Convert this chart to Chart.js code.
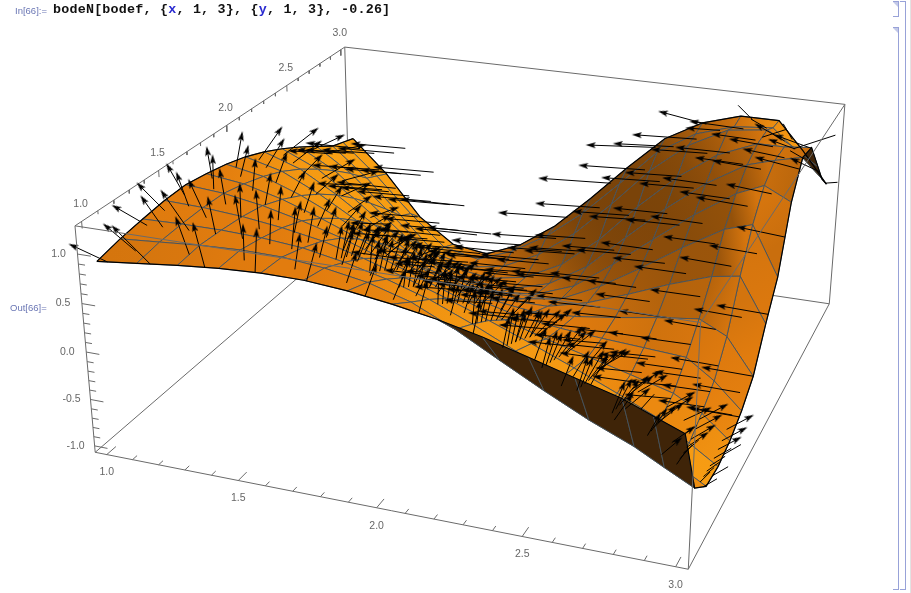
<!DOCTYPE html>
<html>
<head>
<meta charset="utf-8">
<title>bodeN</title>
<script src="https://cdn.jsdelivr.net/npm/chart.js@4/dist/chart.umd.min.js"></script>
<style>
  html, body { margin: 0; padding: 0; background: #fff; overflow: hidden; }
  #chart { position: absolute; left: 0; top: 0; }
  .tag { position: absolute; font: 9.5px "Liberation Sans", sans-serif; color: #6a76b4; white-space: nowrap; }
  #code { position: absolute; left: 53px; top: 2px; font: bold 13.37px "Liberation Mono", monospace; letter-spacing: 0.21px; color: #111; white-space: pre; }
  #code b { color: #2a2ad0; }
  .brk { position: absolute; border: 1px solid #98a2d8; border-left: none; box-sizing: border-box; }
  .tri { position: absolute; width: 0; height: 0; border-top: 5px solid #c3c9e8; border-left: 5px solid transparent; }
  #edge { position: absolute; left: 910px; top: 0; width: 1px; height: 593px; background: #e2e2e2; }
</style>
</head>
<body>
<canvas id="chart" width="911" height="593"></canvas>
<div class="tag" style="left:15px;top:5px">In[66]:=</div>
<div id="code">bodeN[bodef, {<b>x</b>, 1, 3}, {<b>y</b>, 1, 3}, -0.26]</div>
<div class="tag" style="left:10px;top:302px">Out[66]=</div>
<div class="brk" style="left:893px;top:1px;width:6px;height:16px"></div>
<div class="brk" style="left:893px;top:27px;width:6px;height:563px"></div>
<div class="brk" style="left:900px;top:1px;width:6px;height:589px"></div>
<div class="tri" style="left:893px;top:2px"></div>
<div class="tri" style="left:893px;top:28px"></div>
<div id="edge"></div>
<script>
// Plot ranges of the box
const xRange = [0.955, 3.04];
const yRange = [0.96, 3.04];
const zRange = [-1.07, 1.28];

// Tick labels
const xTicks = ['1.0', '1.5', '2.0', '2.5', '3.0'];
const yTicks = ['1.0', '1.5', '2.0', '2.5', '3.0'];
const zTicks = ['-1.0', '-0.5', '0.0', '0.5', '1.0'];

// Surface samples, one row per gridY value
const gridX = [1.0, 1.15, 1.3, 1.45, 1.6, 1.75, 1.9, 2.05, 2.2, 2.35, 2.5, 2.65, 2.8, 2.9, 3.0];
const gridY = [1.0, 1.15, 1.3, 1.45, 1.6, 1.75, 1.9, 2.05, 2.2, 2.35, 2.5, 2.65, 2.8, 2.9, 3.0];
const surfaceZ = [
  [0.90, 0.945, 0.99, 1.026, 1.045, 1.041, 1.005, 0.945, 0.87, 0.77, 0.65, 0.525, 0.406, 0.29, 0.175],
  [0.96, 0.99, 1.02, 1.037, 1.03, 0.985, 0.91, 0.784, 0.585, 0.352, 0.124, -0.09, -0.275, -0.43, -0.58],
  [1.0, 1.009, 1.008, 0.991, 0.952, 0.871, 0.766, 0.629, 0.45, 0.249, 0.038, -0.174, -0.38, -0.62, -0.79],
  [1.034, 1.019, 0.985, 0.93, 0.855, 0.739, 0.606, 0.459, 0.30, 0.132, -0.046, -0.233, -0.428, -0.62, -0.81],
  [1.045, 1.011, 0.94, 0.84, 0.72, 0.57, 0.415, 0.262, 0.12, -0.01, -0.125, -0.24, -0.36, -0.52, -0.76],
  [1.011, 0.958, 0.85, 0.705, 0.54, 0.368, 0.213, 0.078, -0.03, -0.085, -0.121, -0.15, -0.18, -0.38, -0.65],
  [0.965, 0.887, 0.735, 0.543, 0.34, 0.145, -0.003, -0.106, -0.165, -0.143, -0.085, -0.016, 0.04, -0.1, -0.48],
  [0.90, 0.792, 0.595, 0.356, 0.12, -0.086, -0.219, -0.283, -0.283, -0.174, -0.013, 0.163, 0.313, 0.36, -0.105],
  [0.81, 0.668, 0.43, 0.15, -0.12, -0.315, -0.425, -0.448, -0.38, -0.17, 0.1, 0.388, 0.65, 0.74, 0.22],
  [0.70, 0.517, 0.235, -0.083, -0.368, -0.546, -0.616, -0.573, -0.41, -0.095, 0.25, 0.584, 0.875, 1.0, 0.86],
  [0.576, 0.35, 0.022, -0.325, -0.605, -0.744, -0.752, -0.626, -0.36, 0.04, 0.43, 0.772, 1.035, 1.12, 1.19],
  [0.44, 0.166, -0.206, -0.58, -0.81, -0.872, -0.79, -0.569, -0.212, 0.238, 0.633, 0.94, 1.12, 1.12, 1.15],
  [0.298, -0.04, -0.45, -0.86, -0.97, -0.895, -0.685, -0.363, 0.05, 0.5, 0.85, 1.075, 1.13, 0.98, 0.79],
  [0.249, -0.115, -0.53, -0.895, -0.985, -0.82, -0.565, -0.226, 0.19, 0.62, 0.885, 1.02, 1.06, 0.82, 0.55],
  [0.2, -0.19, -0.68, -0.97, -1.03, -0.85, -0.55, -0.15, 0.28, 0.68, 0.92, 1.05, 1.05, 0.74, 0.39],
];

// Vector field: base points, direction on the page (degrees, 90 = up) and length
const arrowX = [1.04, 1.2, 1.4, 1.58, 1.76, 1.96, 2.14, 2.32, 2.52, 2.7, 2.86, 3.0];
const arrowY = [1.0, 1.26, 1.38, 1.52, 1.72, 1.9, 2.08, 2.28, 2.46, 2.64, 2.84, 2.98];
const arrowAngle = [
  [155, 135, 105, 88, 75, 70, 75, 78, 70, 60, 48, 35],
  [150, 125, 100, 85, 72, 68, 75, 78, 68, 55, 40, 30],
  [135, 115, 95, 80, 68, 65, 72, 70, 58, 40, 35, 30],
  [120, 100, 85, 72, 62, 62, 70, 65, 50, 30, 25, 30],
  [100, 85, 72, 60, 50, 52, 60, 40, 175, 174, 172, 170],
  [80, 70, 58, 42, 35, 40, 45, 176, 174, 172, 170, 170],
  [55, 45, 35, 25, 176, 174, 174, 174, 172, 172, 170, 170],
  [38, 30, 20, 176, 175, 175, 174, 174, 172, 172, 170, 168],
  [25, 15, 178, 176, 175, 175, 176, 175, 174, 172, 170, 165],
  [12, 178, 177, 176, 176, 176, 176, 176, 176, 174, 170, 160],
  [176, 176, 176, 176, 176, 176, 176, 176, 176, 172, 150, 155],
  [174, 174, 174, 174, 176, 176, 176, 178, 165, 135, 120, 4],
];
const arrowLength = [
  [38, 50, 42, 40, 35, 30, 30, 30, 30, 30, 20, 14],
  [36, 45, 40, 38, 32, 28, 28, 28, 28, 28, 22, 16],
  [35, 38, 35, 32, 28, 26, 26, 26, 26, 28, 24, 18],
  [32, 32, 30, 28, 25, 25, 25, 25, 28, 30, 26, 20],
  [28, 28, 28, 25, 24, 25, 25, 25, 38, 42, 42, 45],
  [32, 28, 25, 22, 22, 22, 22, 40, 45, 48, 48, 48],
  [36, 30, 25, 22, 28, 38, 40, 42, 45, 48, 48, 48],
  [40, 34, 26, 32, 38, 42, 44, 45, 48, 48, 48, 45],
  [40, 34, 35, 40, 42, 45, 48, 48, 50, 50, 45, 42],
  [38, 40, 42, 45, 48, 50, 50, 52, 52, 50, 40, 35],
  [45, 50, 52, 55, 58, 60, 60, 62, 60, 50, 30, 28],
  [50, 55, 58, 60, 65, 65, 68, 65, 45, 20, 18, 12],
];

// Crowded arrows in the low middle of the surface
const denseX = [1.72, 1.84, 1.96, 2.08, 2.2, 2.32, 2.44, 2.56, 2.68, 2.8, 2.9, 2.98];
const denseY = [1.3, 1.34, 1.38, 1.42, 1.47, 1.52, 1.57, 1.63, 1.7, 1.8];
const denseAngle = [
  [80, 85, 82, 88, 85, 80, 75, 72, 68, 60, 55, 45],
  [78, 82, 80, 85, 82, 78, 72, 68, 62, 55, 48, 40],
  [75, 78, 78, 82, 80, 75, 68, 60, 52, 45, 40, 35],
  [72, 75, 75, 80, 76, 70, 60, 52, 45, 38, 35, 32],
  [68, 72, 70, 75, 70, 62, 52, 45, 38, 32, 30, 30],
  [62, 68, 66, 70, 62, 55, 45, 38, 32, 28, 28, 28],
  [55, 60, 60, 62, 55, 45, 38, 30, 172, 175, 28, 28],
  [48, 52, 52, 55, 45, 38, 174, 172, 174, 174, 172, 28],
  [40, 45, 45, 45, 174, 175, 174, 174, 174, 172, 172, 170],
  [172, 174, 176, 176, 175, 175, 174, 174, 172, 172, 170, 170],
];
const denseLength = [
  [30, 34, 28, 36, 30, 34, 28, 32, 30, 22, 16, 14],
  [34, 28, 32, 30, 36, 28, 32, 28, 30, 24, 18, 14],
  [28, 32, 36, 28, 32, 30, 28, 34, 28, 26, 20, 16],
  [32, 28, 30, 34, 28, 32, 30, 28, 32, 28, 22, 18],
  [30, 34, 28, 32, 30, 28, 34, 30, 28, 32, 24, 20],
  [28, 30, 34, 28, 32, 30, 28, 32, 30, 28, 26, 22],
  [32, 28, 30, 32, 28, 32, 30, 28, 40, 42, 28, 24],
  [28, 32, 28, 30, 32, 28, 42, 44, 42, 44, 42, 26],
  [30, 28, 32, 28, 42, 44, 42, 44, 44, 42, 44, 42],
  [42, 40, 42, 44, 42, 44, 44, 42, 44, 46, 44, 44],
];

// Second layer of arrows over the broad left hump
const humpX = [1.1, 1.3, 1.5, 1.68, 1.86, 2.02];
const humpY = [1.08, 1.26, 1.44, 1.62, 1.82, 2.02, 2.24];
const humpAngle = [
  [140, 110, 92, 82, 72, 68],
  [125, 102, 88, 76, 68, 64],
  [110, 92, 78, 68, 60, 58],
  [92, 80, 66, 56, 48, 50],
  [76, 62, 48, 38, 35, 40],
  [58, 42, 30, 22, 176, 175],
  [38, 24, 176, 175, 175, 175],
];
const humpLength = [
  [38, 36, 32, 32, 28, 28],
  [34, 34, 30, 28, 28, 26],
  [32, 30, 28, 26, 26, 26],
  [30, 28, 26, 24, 26, 26],
  [28, 26, 24, 24, 24, 26],
  [30, 26, 24, 28, 30, 34],
  [32, 28, 34, 36, 38, 40],
];

// Extra arrows on the rising slope at the right
const slopeX = [2.42, 2.6, 2.78, 2.93];
const slopeY = [1.98, 2.16, 2.34, 2.52, 2.7, 2.88];
const slopeAngle = [
  [174, 172, 172, 170],
  [174, 174, 172, 170],
  [175, 174, 172, 168],
  [176, 175, 172, 168],
  [176, 176, 172, 160],
  [177, 176, 150, 150],
];
const slopeLength = [
  [48, 50, 46, 44],
  [50, 48, 48, 44],
  [50, 50, 46, 42],
  [52, 50, 44, 38],
  [54, 52, 40, 24],
  [56, 30, 18, 16],
];

// Arrows whose heads rest on the back rim, tails stick out over the white
const rimX = [1.02, 1.12, 1.24, 1.36, 1.48, 1.6, 1.72, 1.84];
const rimY = [2.4, 2.55, 2.7, 2.85, 2.98];
const rimAngle = [
  [176, 176, 175, 175, 175, 175, 175, 175],
  [176, 176, 175, 175, 175, 175, 175, 175],
  [176, 175, 175, 175, 174, 174, 175, 175],
  [175, 175, 175, 174, 174, 174, 175, 176],
  [175, 175, 174, 174, 174, 175, 176, 176],
];
const rimLength = [
  [40, 42, 44, 44, 42, 40, 40, 38],
  [44, 46, 48, 50, 46, 44, 42, 40],
  [48, 52, 54, 54, 52, 48, 46, 44],
  [52, 56, 58, 58, 56, 52, 48, 46],
  [50, 56, 60, 60, 56, 54, 50, 46],
];

// Thin lines leaving the crest towards the box corner
const crestX = [2.8, 2.92];
const crestY = [2.72];
const crestAngle = [[18, 18]];
const crestLength = [[26, 44]];

// Where the box corners land on the page, used to fit the camera
const cameraFit = [
  [0, 0, 0, 95, 452], [1, 0, 0, 689, 569], [1, 1, 0, 829, 304], [0, 1, 0, 350, 233],
  [0, 0, 1, 75, 226], [1, 0, 1, 700, 323], [1, 1, 1, 845, 104], [0, 1, 1, 345, 47],
];

// Least squares fit of a 3x4 perspective matrix
function solveCamera() {
  const A = [], b = [];
  cameraFit.forEach(([u, v, w, X, Y]) => {
    A.push([u, v, w, 1, 0, 0, 0, 0, -u * X, -v * X, -w * X]); b.push(X);
    A.push([0, 0, 0, 0, u, v, w, 1, -u * Y, -v * Y, -w * Y]); b.push(Y);
  });
  const n = 11;
  const M = [];
  for (let i = 0; i < n; i++) {
    M.push([]);
    for (let j = 0; j < n; j++) M[i].push(A.reduce((s, r) => s + r[i] * r[j], 0));
    M[i].push(A.reduce((s, r, k) => s + r[i] * b[k], 0));
  }
  for (let i = 0; i < n; i++) {
    let p = i;
    for (let r = i + 1; r < n; r++) if (Math.abs(M[r][i]) > Math.abs(M[p][i])) p = r;
    [M[i], M[p]] = [M[p], M[i]];
    for (let r = 0; r < n; r++) {
      if (r === i) continue;
      const f = M[r][i] / M[i][i];
      for (let c = i; c <= n; c++) M[r][c] -= f * M[i][c];
    }
  }
  return M.map((r, i) => r[n] / r[i]);
}
const cam = solveCamera();

function project(x, y, z) {
  const u = (x - xRange[0]) / (xRange[1] - xRange[0]);
  const v = (y - yRange[0]) / (yRange[1] - yRange[0]);
  const w = (z - zRange[0]) / (zRange[1] - zRange[0]);
  const d = cam[8] * u + cam[9] * v + cam[10] * w + 1;
  return {
    x: (cam[0] * u + cam[1] * v + cam[2] * w + cam[3]) / d,
    y: (cam[4] * u + cam[5] * v + cam[6] * w + cam[7]) / d,
    depth: d,
  };
}

function nearestCell(list, value) {
  let i = 0;
  while (i < list.length - 2 && value > list[i + 1]) i++;
  return i;
}

// height of the sampled surface under a base point
function surfaceAt(x, y) {
  const i = nearestCell(gridX, x), j = nearestCell(gridY, y);
  const s = (x - gridX[i]) / (gridX[i + 1] - gridX[i]);
  const t = (y - gridY[j]) / (gridY[j + 1] - gridY[j]);
  return (1 - t) * ((1 - s) * surfaceZ[j][i] + s * surfaceZ[j][i + 1]) +
    t * ((1 - s) * surfaceZ[j + 1][i] + s * surfaceZ[j + 1][i + 1]);
}

function mix(a, b, t) {
  return a.map((c, i) => Math.round(c + (b[i] - c) * t));
}

// Shade from the surface slope at a node, light comes from the high x side
function nodeColor(i, j) {
  const i0 = Math.max(i - 1, 0), i1 = Math.min(i + 1, gridX.length - 1);
  const j0 = Math.max(j - 1, 0), j1 = Math.min(j + 1, gridY.length - 1);
  const fx = 0.355 * (surfaceZ[j][i1] - surfaceZ[j][i0]) / (gridX[i1] - gridX[i0]);
  const fy = 0.355 * (surfaceZ[j1][i] - surfaceZ[j0][i]) / (gridY[j1] - gridY[j0]);
  const len = Math.hypot(fx, fy, 1);
  const shade = (-0.6 * fx - 0.2 * fy + 0.77) / len;
  const dark = [122, 67, 9], mid = [226, 124, 14], light = [251, 163, 20];
  if (shade < 0.77) return mix(dark, mid, Math.max(0, (shade - 0.1) / 0.67));
  return mix(mid, light, Math.max(0, Math.min(1, (shade - 0.88) / 0.12)));
}

const canvas = document.getElementById('chart');
const ctx2d = canvas.getContext('2d');
const datasets = [];

function addLine(points, color, width) {
  datasets.push({
    data: points, showLine: true, borderColor: color, borderWidth: width,
    pointRadius: 0, fill: false, tension: 0, spanGaps: false,
  });
}
function gap() { return { x: NaN, y: NaN }; }
function boxPoint(a, b, c) {
  return project(xRange[a], yRange[b], zRange[c]);
}

// Box edges behind the surface
addLine([boxPoint(0, 0, 0), boxPoint(0, 1, 0), boxPoint(1, 1, 0), boxPoint(1, 0, 0), gap(),
  boxPoint(0, 1, 0), boxPoint(0, 1, 1), gap(), boxPoint(1, 1, 0), boxPoint(1, 1, 1), gap(),
  boxPoint(0, 0, 1), boxPoint(0, 1, 1), boxPoint(1, 1, 1)], '#6a6a6a', 1);

// Surface cells, far ones first
const cells = [];
for (let j = 0; j < gridY.length - 1; j++) {
  for (let i = 0; i < gridX.length - 1; i++) {
    const c = [[i, j], [i + 1, j], [i + 1, j + 1], [i, j + 1]];
    const pts = c.map(([a, b]) => project(gridX[a], gridY[b], surfaceZ[b][a]));
    const depth = pts.reduce((s, p) => s + p.depth, 0) / 4;
    cells.push({ i, j, pts, depth });
  }
}
cells.sort((a, b) => b.depth - a.depth);
cells.forEach(({ i, j, pts }) => {
  // winding flips where the underside faces the viewer
  const ax = pts[1].x - pts[0].x + pts[2].x - pts[3].x, ay = pts[1].y - pts[0].y + pts[2].y - pts[3].y;
  const bx = pts[3].x - pts[0].x + pts[2].x - pts[1].x, by = pts[3].y - pts[0].y + pts[2].y - pts[1].y;
  let fill = '#3f2408';
  if (ax * by - ay * bx < 0) {
    const left = mix(nodeColor(i, j), nodeColor(i, j + 1), 0.5);
    const right = mix(nodeColor(i + 1, j), nodeColor(i + 1, j + 1), 0.5);
    fill = ctx2d.createLinearGradient((pts[0].x + pts[3].x) / 2, (pts[0].y + pts[3].y) / 2,
      (pts[1].x + pts[2].x) / 2, (pts[1].y + pts[2].y) / 2);
    fill.addColorStop(0, `rgb(${left})`);
    fill.addColorStop(1, `rgb(${right})`);
  }
  datasets.push({
    data: [...pts, pts[0]], showLine: true, fill: 'shape', backgroundColor: fill,
    borderColor: '#44525e', borderWidth: 0.9, pointRadius: 0, tension: 0,
  });
});

// Outline of the surface
const last = gridY.length - 1, lastX = gridX.length - 1;
addLine(gridX.map((x, i) => project(x, gridY[0], surfaceZ[0][i])), '#000', 1.2);
addLine(gridX.map((x, i) => project(x, gridY[last], surfaceZ[last][i])), '#000', 1.2);
addLine(gridY.map((y, j) => project(gridX[0], y, surfaceZ[j][0])), '#000', 1.2);
addLine(gridY.map((y, j) => project(gridX[lastX], y, surfaceZ[j][lastX])), '#000', 1.2);

// Arrow head sprite, points to the right
const head = document.createElement('canvas');
head.width = 10; head.height = 6;
const hc = head.getContext('2d');
hc.fillStyle = '#000';
hc.beginPath(); hc.moveTo(10, 3); hc.lineTo(0, 0); hc.lineTo(2, 3); hc.lineTo(0, 6); hc.closePath(); hc.fill();

const arrowPts = [], arrowRadius = [], arrowRot = [];
function addField(xs, ys, angles, lengths, headOnSurface, headless) {
  ys.forEach((y, j) => {
    xs.forEach((x, i) => {
      const base = project(x, y, surfaceAt(x, y));
      const len = lengths[j][i];
      const rad = angles[j][i] * Math.PI / 180;
      const dx = len * Math.cos(rad), dy = -len * Math.sin(rad);
      const tail = headOnSurface ? { x: base.x - dx, y: base.y - dy } : { x: base.x, y: base.y };
      const tip = headOnSurface ? { x: base.x, y: base.y } : { x: base.x + dx, y: base.y + dy };
      arrowPts.push(tail, tip, gap());
      // the shortest arrows show as bare lines
      arrowRadius.push(0, headless || len <= 20 ? 0 : 4, 0);
      arrowRot.push(0, -angles[j][i], 0);
    });
  });
}
addField(arrowX, arrowY, arrowAngle, arrowLength, false, false);
addField(humpX, humpY, humpAngle, humpLength, false, false);
addField(denseX, denseY, denseAngle, denseLength, false, false);
addField(slopeX, slopeY, slopeAngle, slopeLength, false, false);
addField(rimX, rimY, rimAngle, rimLength, true, false);
addField(crestX, crestY, crestAngle, crestLength, false, true);
datasets.push({
  data: arrowPts, showLine: true, borderColor: '#000', borderWidth: 1, tension: 0, spanGaps: false,
  pointStyle: head, pointRadius: arrowRadius, pointRotation: arrowRot, fill: false,
});

// Box edges in front
addLine([boxPoint(1, 1, 1), boxPoint(1, 0, 1), boxPoint(0, 0, 1), boxPoint(0, 0, 0), boxPoint(1, 0, 0), boxPoint(1, 0, 1)], '#6a6a6a', 1);

// Tick marks, every 0.1 with longer ones on the labelled values
function tenths(from, to) {
  const out = [];
  for (let k = Math.round(from * 10); k <= Math.round(to * 10); k++) out.push(k / 10);
  return out;
}
const tickPts = [];
tenths(1, 3).forEach((x) => {
  const major = Math.round(x * 10) % 5 === 0 ? 0.06 : 0.03;
  tickPts.push(project(x, yRange[0], zRange[0]), project(x, yRange[0] + major, zRange[0]), gap());
});
tenths(1, 3).forEach((y) => {
  const major = Math.round(y * 10) % 5 === 0 ? 0.07 : 0.035;
  tickPts.push(project(xRange[0], y, zRange[1]), project(xRange[0], y, zRange[1] - major), gap());
});
tenths(-1, 1).forEach((z) => {
  const major = Math.round(z * 10) % 5 === 0 ? 0.05 : 0.025;
  tickPts.push(project(xRange[0], yRange[0], z), project(xRange[0] + major, yRange[0], z), gap());
});
addLine(tickPts, '#6a6a6a', 1);

datasets.forEach((d, i) => { d.order = -i; });

// Tick labels sit beside the projected axis positions
const tickLabelPlugin = {
  id: 'tickLabels',
  afterDraw(chart) {
    const { ctx } = chart;
    ctx.save();
    ctx.font = '10.5px "Liberation Sans", sans-serif';
    ctx.fillStyle = '#666';
    ctx.textAlign = 'center';
    ctx.textBaseline = 'middle';
    xTicks.forEach((t) => {
      const p = project(parseFloat(t), yRange[0], zRange[0]);
      ctx.fillText(t, p.x, p.y + 18);
    });
    yTicks.forEach((t) => {
      const p = project(xRange[0], parseFloat(t), zRange[1]);
      ctx.fillText(t, p.x - 1, p.y - 17);
    });
    zTicks.forEach((t) => {
      const p = project(xRange[0], yRange[0], parseFloat(t));
      ctx.fillText(t, p.x - 19, p.y);
    });
    ctx.restore();
  },
};

new Chart(canvas, {
  type: 'scatter',
  data: { datasets },
  plugins: [tickLabelPlugin],
  options: {
    responsive: false,
    animation: false,
    events: [],
    layout: { padding: 0 },
    plugins: { legend: { display: false }, tooltip: { enabled: false } },
    scales: {
      x: { type: 'linear', min: 0, max: 911, display: false },
      y: { type: 'linear', min: 0, max: 593, reverse: true, display: false },
    },
  },
});
</script>
</body>
</html>
